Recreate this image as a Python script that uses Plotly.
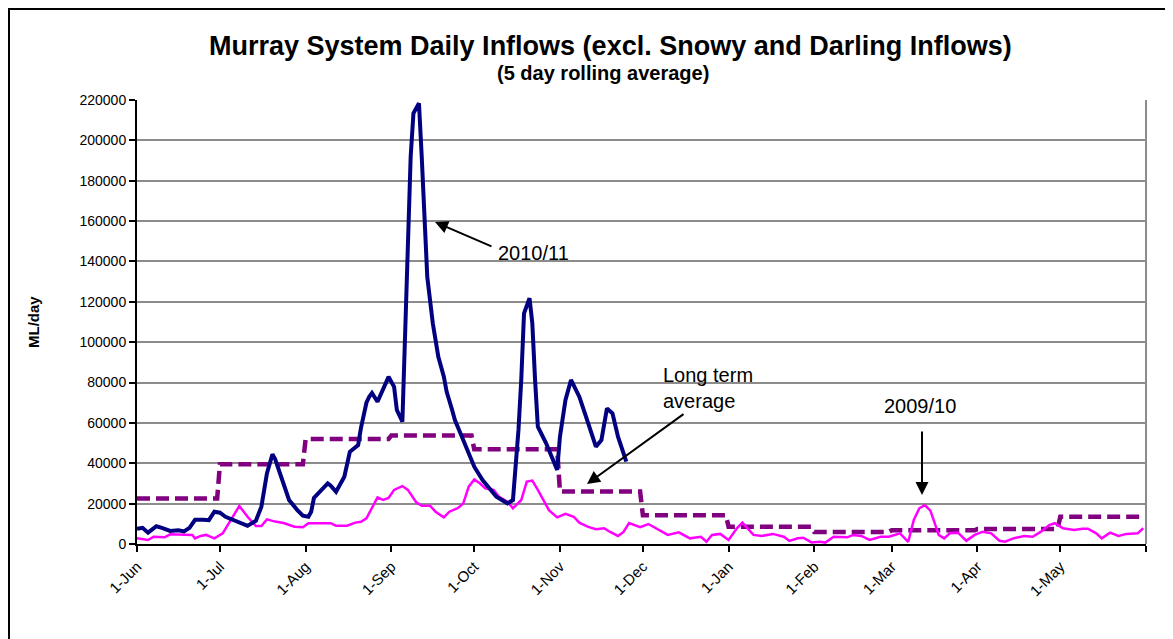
import plotly.graph_objects as go
import pandas as pd

SEASON_START = "2010-06-01"

# 2010/11 series: day of season (0 = 1-Jun) and ML/day
days_2010_11 = [0, 2, 4, 7, 9, 12, 15, 17, 19, 21, 24, 26, 28, 30, 32, 35, 37, 40, 43, 45,
                47, 49, 50, 53, 55, 58, 60, 62, 63, 64, 67, 69, 70, 72, 75, 77, 80, 81, 83, 84,
                85, 87, 90, 91, 93, 94, 96, 98, 99, 100, 102, 103, 104, 105, 107, 109, 111, 112, 114, 115,
                117, 119, 122, 125, 128, 130, 132, 134, 136, 138, 139, 140, 142, 143, 144, 145, 148, 150, 152, 153,
                155, 157, 160, 162, 164, 166, 168, 170, 172, 174, 177]
flow_2010_11 = [7500, 8000, 5600, 8800, 8000, 6500, 6800, 6200, 8000, 12000, 12000, 11800, 16000, 15500, 13500, 12000, 10500, 9000, 11500, 18500,
                35000, 44500, 42000, 30000, 21800, 16800, 14000, 13500, 16000, 22800, 27000, 30000, 29000, 25900, 33300, 45700, 49000, 57400, 70000, 73000,
                74800, 70500, 79700, 82900, 77900, 66400, 60600, 159000, 191900, 213400, 218400, 191900, 158900, 132400, 109400, 92800, 82900, 75500, 66400, 61400,
                54900, 48200, 38300, 31700, 26800, 23400, 21800, 20100, 21800, 56500, 81300, 114300, 121800, 109400, 81300, 58100, 49900, 43300, 36700, 53200,
                71400, 81300, 73000, 64800, 56500, 48200, 51500, 67200, 64800, 53200, 40800]

# 2009/10 series
days_2009_10 = [0, 4, 6, 10, 12, 16, 20, 21, 23, 25, 28, 31, 34, 37, 40, 43, 45, 47, 50, 53,
                57, 60, 62, 70, 72, 76, 79, 81, 83, 85, 87, 89, 91, 93, 96, 98, 101, 103, 106, 108,
                111, 113, 116, 118, 120, 122, 124, 126, 129, 131, 134, 136, 139, 141, 143, 145, 147, 149, 152, 155,
                158, 160, 163, 166, 169, 171, 174, 176, 178, 182, 185, 189, 192, 196, 200, 204, 206, 208, 211, 214,
                217, 219, 223, 226, 230, 234, 236, 239, 241, 244, 247, 249, 252, 257, 259, 262, 265, 269, 272, 276,
                279, 281, 283, 285, 287, 289, 290, 292, 294, 297, 300, 303, 306, 309, 312, 314, 317, 321, 324, 327,
                330, 332, 335, 339, 342, 344, 347, 349, 352, 355, 358, 362, 364]
flow_2009_10 = [2800, 2000, 3600, 3300, 4800, 4500, 4500, 2800, 4000, 4500, 2800, 5300, 11900, 18800, 13500, 8900, 8900, 12200, 11100, 10400,
                8600, 8300, 10300, 10300, 9100, 9100, 10600, 11000, 12700, 17700, 23100, 21800, 22800, 26800, 28700, 26800, 20700, 19000, 19000, 16000,
                13200, 16000, 17700, 20000, 28400, 32000, 30100, 27600, 26800, 23400, 21000, 17700, 21800, 30900, 31400, 26800, 21800, 16800, 13200, 14900,
                13500, 10600, 8600, 7300, 7800, 6100, 4000, 6000, 10400, 8400, 9900, 6600, 4500, 5800, 2800, 3600, 1100, 4500, 5000, 2000,
                7800, 10600, 4500, 4000, 5000, 3600, 1500, 2800, 3100, 800, 1100, 700, 3600, 3300, 4500, 4000, 2000, 3600, 3600, 5300,
                1100, 11900, 17700, 19300, 16500, 8600, 4500, 2800, 5300, 5600, 1600, 4500, 6100, 5300, 1600, 1100, 2800, 4000, 3600, 6100,
                9400, 10300, 7800, 6900, 7600, 7600, 5300, 2800, 5600, 4000, 5000, 5300, 7800]

# Long term average, one value per month Jun..May
lta_months = [6, 7, 8, 9, 10, 11, 12, 1, 2, 3, 4, 5]
lta_values = [22500, 39500, 52000, 53800, 47000, 26000, 14300, 8600, 6000, 6800, 7400, 13500]

tick_dates = ["2010-06-01", "2010-07-01", "2010-08-01", "2010-09-01", "2010-10-01", "2010-11-01",
              "2010-12-01", "2011-01-01", "2011-02-01", "2011-03-01", "2011-04-01", "2011-05-01", "2011-06-01"]
tick_labels = ["1-Jun", "1-Jul", "1-Aug", "1-Sep", "1-Oct", "1-Nov", "1-Dec", "1-Jan", "1-Feb",
               "1-Mar", "1-Apr", "1-May", ""]
y_ticks = list(range(0, 220001, 20000))

start = pd.Timestamp(SEASON_START)
x_2010_11 = start + pd.to_timedelta(days_2010_11, unit="D")
x_2009_10 = start + pd.to_timedelta(days_2009_10, unit="D")
lta_dates = pd.date_range(SEASON_START, "2011-05-31", freq="D")
lta_lookup = dict(zip(lta_months, lta_values))
lta_daily = [lta_lookup[d.month] for d in lta_dates]

FONT = "Liberation Sans, Arial, sans-serif"

fig = go.Figure()
fig.add_trace(go.Scatter(x=lta_dates, y=lta_daily, mode="lines", name="Long term average",
                         line=dict(color="#800080", width=4.5, dash="13px,6px")))
fig.add_trace(go.Scatter(x=x_2009_10, y=flow_2009_10, mode="lines", name="2009/10",
                         line=dict(color="#FF00FF", width=2.5)))
fig.add_trace(go.Scatter(x=x_2010_11, y=flow_2010_11, mode="lines", name="2010/11",
                         line=dict(color="#000080", width=4)))

# page offset of the figure (browser body margin)
OFF = 8
# plot area in page pixels
PL, PR, PT, PB = 137, 1146, 100, 544
W, H = 1173 - OFF, 639 - OFF


def px_x(p):
    return (p - PL) / (PR - PL)


def px_y(p):
    return (PB - p) / (PB - PT)


def day_date(d):
    return start + pd.Timedelta(days=d)


def val(py):
    return (PB - py) / (PB - PT) * 220000


def dday(px):
    return (px - PL) / (PR - PL) * 365


def label(text, x, y, size, xanchor="center", **kw):
    return dict(text=text, x=px_x(x), y=px_y(y), xref="paper", yref="paper", xanchor=xanchor,
                yanchor="middle", showarrow=False, font=dict(size=size, color="black", family=FONT), **kw)


def arrow(x_tip, y_tip, x_tail, y_tail):
    return dict(x=day_date(dday(x_tip)), y=val(y_tip), ax=day_date(dday(x_tail)), ay=val(y_tail),
                axref="x", ayref="y", xref="x", yref="y", text="", showarrow=True,
                arrowhead=2, arrowsize=1.3, arrowwidth=2, arrowcolor="black")


annotations = [
    label("<b>Murray System Daily Inflows (excl. Snowy and Darling Inflows)</b>", 610, 46, 27),
    label("<b>(5 day rolling average)</b>", 603, 73, 20),
    label("<b>ML/day</b>", 33, 322, 15, textangle=-90),
    arrow(435, 222, 493, 247),
    arrow(587, 484, 685, 413),
    arrow(922, 495, 922, 430),
    label("2010/11", 496, 253, 20, xanchor="left"),
    label("Long term<br>average", 661, 388, 20, xanchor="left", align="left"),
    label("2009/10", 920, 406, 20),
]

shapes = [
    dict(type="line", xref="paper", yref="paper", x0=1, x1=1, y0=0, y1=1,
         line=dict(color="#8c8c8c", width=2)),
    dict(type="rect", xref="paper", yref="paper", x0=px_x(9), x1=px_x(1166), y0=px_y(660), y1=px_y(9),
         line=dict(color="black", width=2), fillcolor="rgba(0,0,0,0)"),
]

fig.update_layout(
    width=W, height=H,
    margin=dict(l=PL - OFF, r=W - (PR - OFF), t=PT - OFF, b=H - (PB - OFF)),
    paper_bgcolor="white", plot_bgcolor="white",
    showlegend=False,
    font=dict(family=FONT, color="black", size=14),
    annotations=annotations,
    shapes=shapes,
    xaxis=dict(type="date", range=["2010-06-01", "2011-06-01"], tickvals=tick_dates, ticktext=tick_labels,
               tickangle=-45, showgrid=False, showline=True, linecolor="black", linewidth=2,
               ticks="outside", ticklen=6, tickwidth=2, tickcolor="black",
               tickfont=dict(size=15, family=FONT, color="black"), zeroline=False),
    yaxis=dict(range=[0, 220000], tickvals=y_ticks, tickformat="d", showgrid=True,
               gridcolor="#8c8c8c", gridwidth=2, showline=True, linecolor="black", linewidth=2,
               ticks="outside", ticklen=6, tickwidth=2, tickcolor="black",
               tickfont=dict(size=14, family=FONT, color="black"), zeroline=False),
)

fig.write_html("out.html")
